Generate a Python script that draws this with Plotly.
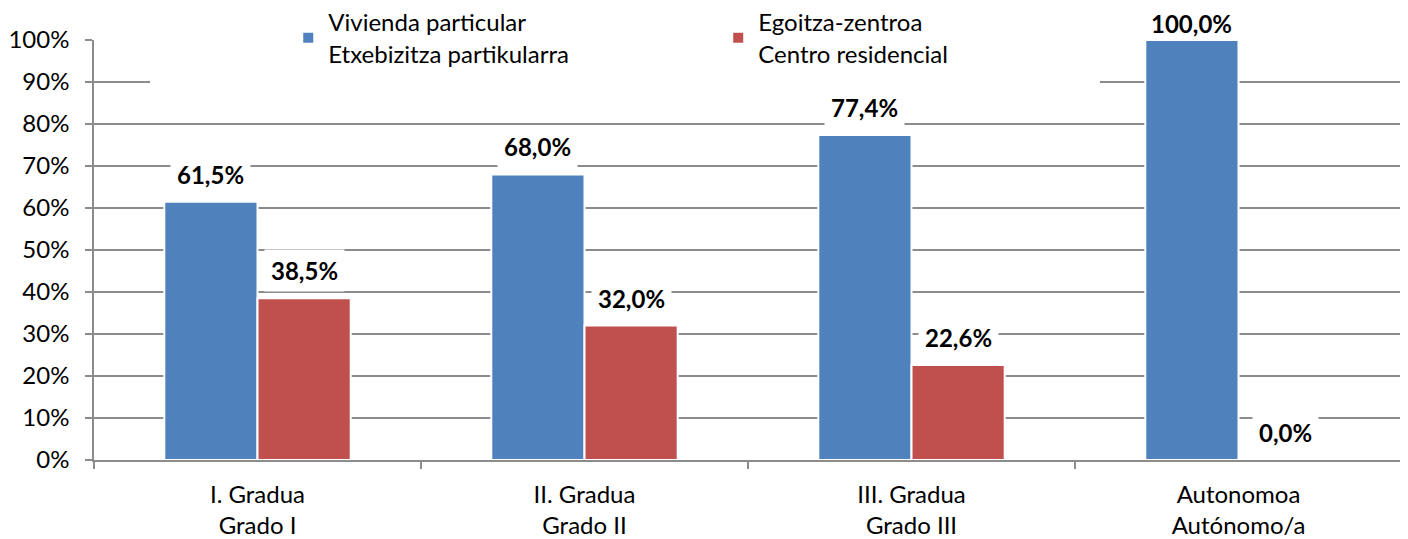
import plotly.graph_objects as go

# Data
CATEGORIES = [
    "I. Gradua<br>Grado I",
    "II. Gradua<br>Grado II",
    "III. Gradua<br>Grado III",
    "Autonomoa<br>Autónomo/a",
]
VIVIENDA = [61.5, 68.0, 77.4, 100.0]
CENTRO = [38.5, 32.0, 22.6, 0.0]
NAME_VIVIENDA = "Vivienda particular<br>Etxebizitza partikularra"
NAME_CENTRO = "Egoitza-zentroa<br>Centro residencial"
Y_TICKS = [0, 10, 20, 30, 40, 50, 60, 70, 80, 90, 100]

BLUE = "#4F81BD"
RED = "#C0504D"
GRID = "#8c8c8c"
FONT = "Lato"

# page body adds an 8px margin, so the figure is a bit smaller than the window
WIDTH, HEIGHT = 1400, 531
M_L, M_R, M_T, M_B = 86, 6, 32, 79
PLOT_W = WIDTH - M_L - M_R
PLOT_H = HEIGHT - M_T - M_B


def pct(v):
    """ Spanish style percent label """
    return f"{v:.1f}".replace(".", ",") + "%"


def main():
    fig = go.Figure()
    fig.add_trace(
        go.Bar(
            x=CATEGORIES,
            y=VIVIENDA,
            name=NAME_VIVIENDA,
            marker=dict(color=BLUE, line=dict(color="white", width=2)),
        )
    )
    fig.add_trace(
        go.Bar(
            x=CATEGORIES,
            y=CENTRO,
            name=NAME_CENTRO,
            marker=dict(color=RED, line=dict(color="white", width=2)),
        )
    )

    # data labels with white boxes that cut the gridlines
    annotations = []
    for values, shift in ((VIVIENDA, -47), (CENTRO, 47)):
        for cat, v in zip(CATEGORIES, values):
            top = v >= 100  # keep the top label inside the page
            annotations.append(
                dict(
                    x=cat,
                    y=v,
                    xref="x",
                    yref="y",
                    text=f"<b>{pct(v)}</b>",
                    showarrow=False,
                    xshift=shift,
                    yanchor="bottom",
                    yshift=0 if top else 6,
                    bgcolor="white",
                    borderpad=1 if top else 6,
                    font=dict(family=FONT, size=24, color="black"),
                )
            )

    fig.update_layout(
        width=WIDTH,
        height=HEIGHT,
        margin=dict(l=M_L, r=M_R, t=M_T, b=M_B, autoexpand=False),
        paper_bgcolor="white",
        plot_bgcolor="white",
        barmode="group",
        bargap=0.43,
        bargroupgap=0,
        font=dict(family=FONT, size=24, color="black"),
        annotations=annotations,
        # white area behind the legend, hides the top gridlines like the original
        shapes=[
            dict(
                type="rect",
                xref="paper",
                yref="paper",
                x0=56 / PLOT_W,
                x1=1006 / PLOT_W,
                y0=0.88,
                y1=1.02,
                fillcolor="white",
                line=dict(width=0),
                layer="above",
            )
        ],
        legend=dict(
            orientation="h",
            x=0.1485,
            xanchor="left",
            y=1 + 40 / PLOT_H,
            yanchor="top",
            entrywidth=385,
            bgcolor="rgba(0,0,0,0)",
            font=dict(family=FONT, size=24, color="black"),
        ),
    )
    fig.update_xaxes(
        showline=True,
        linecolor=GRID,
        linewidth=1.5,
        ticks="outside",
        tickson="boundaries",
        ticklen=7,
        tickcolor=GRID,
        tickwidth=1.5,
        showgrid=False,
        ticklabelstandoff=12,
    )
    fig.update_yaxes(
        range=[0, 100],
        tickmode="array",
        tickvals=Y_TICKS,
        ticktext=[f"{v}%" for v in Y_TICKS],
        showline=True,
        linecolor=GRID,
        linewidth=1.5,
        ticks="outside",
        ticklen=7,
        tickcolor=GRID,
        tickwidth=1.5,
        showgrid=True,
        gridcolor=GRID,
        gridwidth=1.5,
        zeroline=False,
        ticklabelstandoff=11,
    )
    fig.write_html("out.html")


if __name__ == "__main__":
    main()
